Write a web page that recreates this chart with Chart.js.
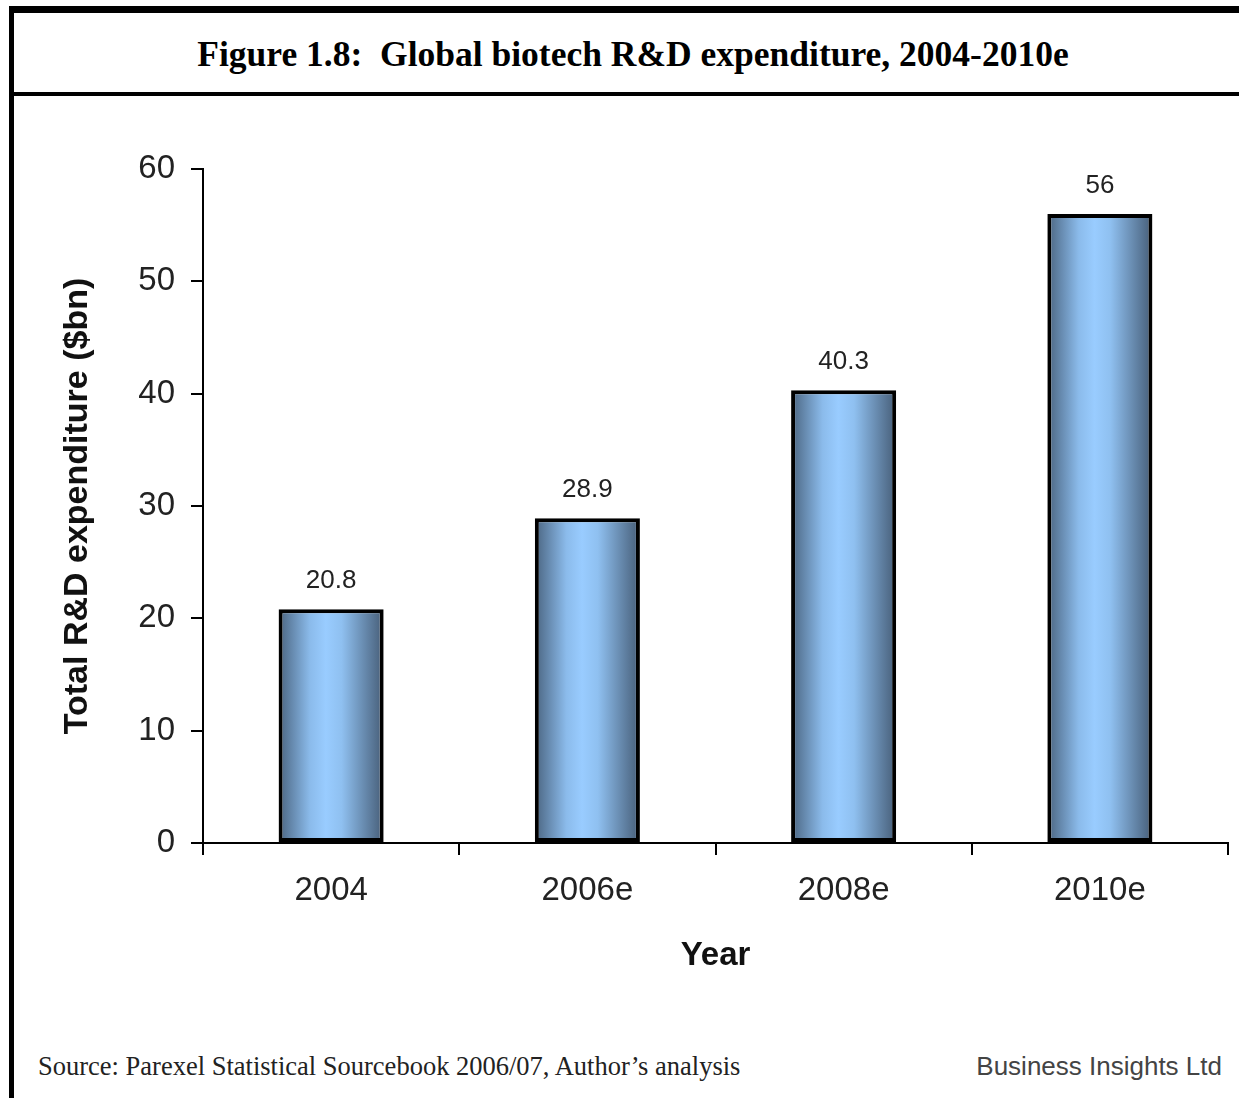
<!DOCTYPE html>
<html>
<head>
<meta charset="utf-8">
<script src="https://cdn.jsdelivr.net/npm/chart.js@4.4.1/dist/chart.umd.min.js"></script>
<style>
  html, body { margin: 0; padding: 0; background: #fff; overflow: hidden; width: 1239px; height: 1098px; }
  #frame { position: absolute; left: 9px; top: 6px; width: 1300px; height: 1150px;
           border-left: 5px solid #000; border-top: 7px solid #000; }
  #rule { position: absolute; left: 14px; top: 92px; width: 1300px; height: 4px; background: #000; }
  #title { position: absolute; left: 0; top: 33px; width: 1266px; line-height: 40px; text-align: center;
           font: bold 35.5px "Liberation Serif", "Times New Roman", serif; color: #000; white-space: nowrap; }
  #box { position: absolute; left: 14px; top: 96px; width: 1225px; height: 920px; }
  #source { position: absolute; left: 38px; top: 1051px; line-height: 30px;
            font: 26.5px "Liberation Serif", "Times New Roman", serif; color: #222; white-space: nowrap; }
  #brand { position: absolute; right: 17px; top: 1051px; line-height: 30px;
           font: 26px "Liberation Sans", Arial, sans-serif; color: #444; white-space: nowrap; }
</style>
</head>
<body>
<div id="frame"></div>
<div id="rule"></div>
<div id="title">Figure 1.8:&nbsp; Global biotech R&amp;D expenditure, 2004-2010e</div>
<div id="box"><canvas id="chart" width="1225" height="920"></canvas></div>
<div id="source">Source: Parexel Statistical Sourcebook 2006/07, Author’s analysis</div>
<div id="brand">Business Insights Ltd</div>
<script>
// chart data
const years = ['2004', '2006e', '2008e', '2010e'];
const spend = [20.8, 28.9, 40.3, 56];
const yTicks = [0, 10, 20, 30, 40, 50, 60];

const barPct = 0.41;
const sans = '"Liberation Sans", Arial, sans-serif';

// horizontal shading across each bar, like the old Excel cylinder look
function barFill(ctx) {
  if (ctx.type !== 'data') return '#99ccff';
  const chart = ctx.chart;
  const xs = chart.scales.x;
  if (!xs || !chart.chartArea) return '#99ccff';
  const cx = xs.getPixelForValue(ctx.dataIndex);
  const w = (xs.width / years.length) * barPct;
  const g = chart.ctx.createLinearGradient(cx - w / 2, 0, cx + w / 2, 0);
  g.addColorStop(0, '#4a6480');
  g.addColorStop(0.3, '#8bbbeb');
  g.addColorStop(0.45, '#99ccff');
  g.addColorStop(0.6, '#8fc0f0');
  g.addColorStop(1, '#465d77');
  return g;
}

// value labels above the bars
const valueLabels = {
  id: 'valueLabels',
  afterDatasetsDraw(chart) {
    const c = chart.ctx;
    c.save();
    c.font = '26px ' + sans;
    c.fillStyle = '#222';
    c.textAlign = 'center';
    c.textBaseline = 'alphabetic';
    chart.getDatasetMeta(0).data.forEach((bar, i) => {
      c.fillText(String(spend[i]), bar.x, bar.y - 21);
    });
    c.restore();
  }
};

const ctx = document.getElementById('chart').getContext('2d');
new Chart(ctx, {
  type: 'bar',
  data: {
    labels: years,
    datasets: [{
      data: spend,
      backgroundColor: barFill,
      borderColor: '#000',
      borderWidth: 4,
      borderSkipped: false,
      barPercentage: barPct,
      categoryPercentage: 1
    }]
  },
  options: {
    responsive: false,
    animation: false,
    devicePixelRatio: 1,
    layout: { padding: { left: 0, top: 73, right: 11, bottom: 0 } },
    plugins: { legend: { display: false }, tooltip: { enabled: false } },
    scales: {
      x: {
        afterFit: (s) => { s.height = 920 - 747; },
        border: { display: true, color: '#000', width: 2 },
        grid: { display: true, offset: true, drawOnChartArea: false, drawTicks: true, tickLength: 12, color: '#000', lineWidth: 2 },
        ticks: { color: '#222', padding: 16, font: { family: sans, size: 33 } },
        title: { display: true, text: 'Year', color: '#111', padding: { top: 0, bottom: 40 },
                 font: { family: sans, size: 33, weight: 'bold' } }
      },
      y: {
        min: 0,
        max: 60,
        afterFit: (s) => { s.width = 189; },
        afterBuildTicks: (s) => { s.ticks = yTicks.map(v => ({ value: v })); },
        border: { display: true, color: '#000', width: 2 },
        grid: { display: true, drawOnChartArea: false, drawTicks: true, tickLength: 12, color: '#000', lineWidth: 2 },
        ticks: { color: '#222', padding: 16, font: { family: sans, size: 33 } },
        title: { display: true, text: 'Total R&D expenditure ($bn)', color: '#111', padding: { top: 43, bottom: 0 },
                 font: { family: sans, size: 34, weight: 'bold' } }
      }
    }
  },
  plugins: [valueLabels]
});
</script>
</body>
</html>
